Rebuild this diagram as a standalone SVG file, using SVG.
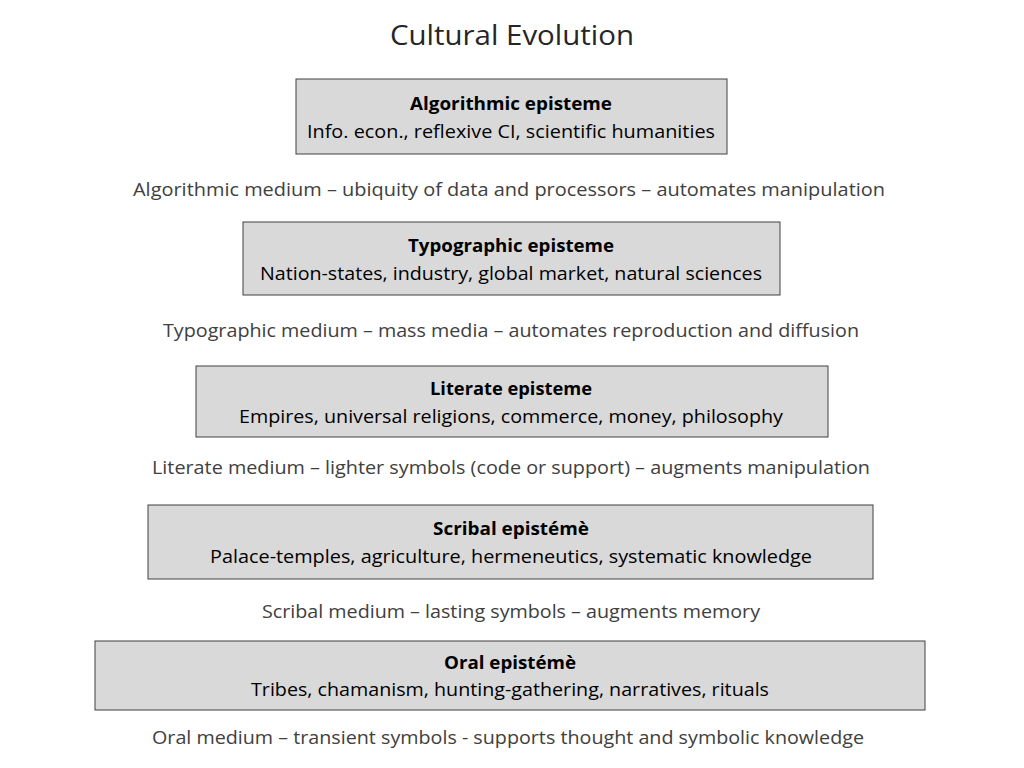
<svg xmlns="http://www.w3.org/2000/svg" width="1024" height="768" viewBox="0 0 1024 768">
<style>
text{font-family:"Open Sans","Liberation Sans",sans-serif;fill:#404040;text-anchor:middle;font-size:18px}
.t{font-size:28px;fill:#262626}
.b{font-weight:bold;fill:#000}
.n{fill:#000}
.box{fill:#d9d9d9;stroke:#404040;stroke-width:1}
</style>
<rect width="1024" height="768" fill="#ffffff"/>
<text class="t" x="512" y="45" textLength="244" lengthAdjust="spacingAndGlyphs">Cultural Evolution</text>
<g id="algorithmic"><rect class="box" x="296" y="79" width="431" height="75"/>
<text class="b" x="511" y="110" textLength="202" lengthAdjust="spacingAndGlyphs">Algorithmic episteme</text>
<text class="n" x="511" y="138" textLength="408" lengthAdjust="spacingAndGlyphs">Info. econ., reflexive CI, scientific humanities</text></g>
<text x="509" y="196" textLength="752" lengthAdjust="spacingAndGlyphs">Algorithmic medium – ubiquity of data and processors –  automates manipulation</text>
<g id="typographic"><rect class="box" x="243" y="222" width="537" height="73"/>
<text class="b" x="511" y="252" textLength="206" lengthAdjust="spacingAndGlyphs">Typographic episteme</text>
<text class="n" x="511" y="280" textLength="502" lengthAdjust="spacingAndGlyphs">Nation-states, industry, global market, natural sciences</text></g>
<text x="511" y="337" textLength="696" lengthAdjust="spacingAndGlyphs">Typographic medium – mass media – automates reproduction and diffusion</text>
<g id="literate"><rect class="box" x="196" y="366" width="632" height="71"/>
<text class="b" x="511" y="395" textLength="162" lengthAdjust="spacingAndGlyphs">Literate episteme</text>
<text class="n" x="511" y="423" textLength="544" lengthAdjust="spacingAndGlyphs">Empires, universal religions, commerce, money, philosophy</text></g>
<text x="511" y="474" textLength="718" lengthAdjust="spacingAndGlyphs">Literate medium – lighter symbols (code or support) – augments manipulation</text>
<g id="scribal"><rect class="box" x="148" y="505" width="725" height="74"/>
<text class="b" x="511" y="535" textLength="156" lengthAdjust="spacingAndGlyphs">Scribal epistémè</text>
<text class="n" x="511" y="563" textLength="602" lengthAdjust="spacingAndGlyphs">Palace-temples, agriculture, hermeneutics, systematic knowledge</text></g>
<text x="511" y="618" textLength="498" lengthAdjust="spacingAndGlyphs">Scribal medium – lasting symbols – augments memory</text>
<g id="oral"><rect class="box" x="95" y="641" width="830" height="69"/>
<text class="b" x="510" y="669" textLength="132" lengthAdjust="spacingAndGlyphs">Oral epistémè</text>
<text class="n" x="510" y="696" textLength="518" lengthAdjust="spacingAndGlyphs">Tribes, chamanism, hunting-gathering, narratives, rituals</text></g>
<text x="508" y="744" textLength="712" lengthAdjust="spacingAndGlyphs">Oral medium – transient symbols - supports thought and symbolic knowledge</text>
<g id="connectors"/>
</svg>
